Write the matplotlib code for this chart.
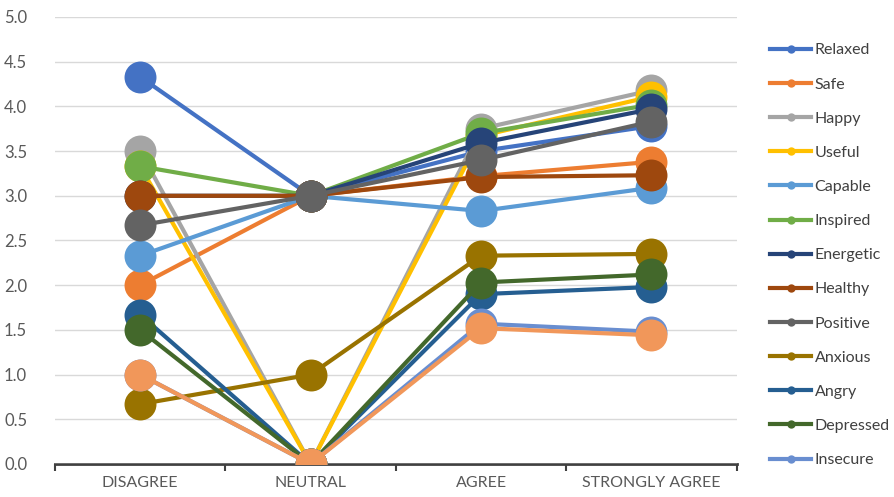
import matplotlib
matplotlib.use("Agg")
import matplotlib.pyplot as plt
from matplotlib.lines import Line2D

plt.rcParams['font.family'] = ['Lato', 'DejaVu Sans']

categories = ["DISAGREE", "NEUTRAL", "AGREE", "STRONGLY AGREE"]
y_ticks = [0.0, 0.5, 1.0, 1.5, 2.0, 2.5, 3.0, 3.5, 4.0, 4.5, 5.0]

relaxed = [4.33, 3.0, 3.50, 3.78]
safe = [2.00, 3.0, 3.22, 3.38]
happy = [3.50, 0.0, 3.75, 4.18]
useful = [3.33, 0.0, 3.67, 4.11]
capable = [2.33, 3.0, 2.83, 3.09]
inspired = [3.33, 3.0, 3.70, 4.02]
energetic = [3.00, 3.0, 3.59, 3.97]
healthy = [3.00, 3.0, 3.21, 3.23]
positive = [2.67, 3.0, 3.40, 3.83]
anxious = [0.67, 1.0, 2.33, 2.35]
angry = [1.67, 0.0, 1.90, 1.98]
depressed = [1.50, 0.0, 2.03, 2.12]
insecure = [1.00, 0.0, 1.57, 1.48]
extra = [1.00, 0.0, 1.52, 1.44]

series = [
    ("Relaxed", relaxed, "#4472C4"),
    ("Safe", safe, "#ED7D31"),
    ("Happy", happy, "#A5A5A5"),
    ("Useful", useful, "#FFC000"),
    ("Capable", capable, "#5B9BD5"),
    ("Inspired", inspired, "#70AD47"),
    ("Energetic", energetic, "#264478"),
    ("Healthy", healthy, "#9E480E"),
    ("Positive", positive, "#636363"),
    ("Anxious", anxious, "#997300"),
    ("Angry", angry, "#255E91"),
    ("Depressed", depressed, "#43682B"),
    ("Insecure", insecure, "#698ED0"),
    ("_extra", extra, "#F1975A"),
]

fig = plt.figure(figsize=(8.94, 4.97), dpi=100)
ax = fig.add_axes([0.0615, 0.0664, 0.7625, 0.8994])

x = list(range(len(categories)))
for name, vals, col in series:
    ax.plot(x, vals, color=col, lw=3.0, marker="o", markersize=23,
            markeredgewidth=0, solid_capstyle="round")

ax.set_xlim(-0.5, 3.5)
ax.set_ylim(0, 5)
ax.set_yticks(y_ticks)
ax.set_yticklabels([f"{v:.1f}" for v in y_ticks])
ax.set_xticks(x)
ax.set_xticklabels(categories)
ax.set_xticks([-0.5, 0.5, 1.5, 2.5, 3.5], minor=True)
ax.tick_params(axis="x", which="major", length=0, pad=9, labelsize=11.5, colors="#595959")
ax.tick_params(axis="x", which="minor", length=5, width=1.5, color="#404040")
ax.tick_params(axis="y", length=0, pad=20, labelsize=12, colors="#595959")
ax.grid(axis="y", color="#d9d9d9", lw=1.0)
ax.set_axisbelow(True)
for s in ["top", "right", "left"]:
    ax.spines[s].set_visible(False)
ax.spines["bottom"].set_color("#404040")
ax.spines["bottom"].set_linewidth(2.0)
ax.spines["bottom"].set_zorder(0.5)

handles = []
labels = []
for name, vals, col in series:
    if name.startswith("_"):
        continue
    handles.append(Line2D([0], [0], color=col, lw=3.0, marker="o", markersize=6,
                          markeredgewidth=0))
    labels.append(name)
fig.legend(handles, labels, loc="upper left", bbox_to_anchor=(0.845, 0.942),
           frameon=False, fontsize=11.5, labelspacing=1.25, handlelength=2.6,
           handletextpad=0.2, labelcolor="#404040")

fig.savefig("out.png", dpi=100, facecolor="white")
